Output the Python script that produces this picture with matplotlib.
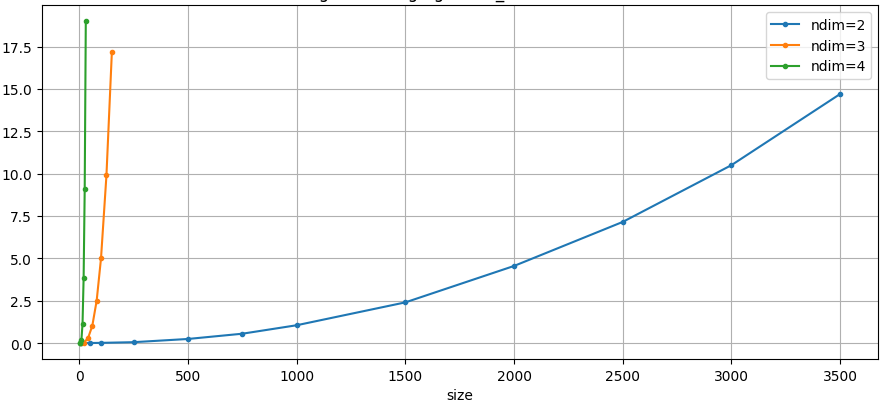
import matplotlib
matplotlib.use("Agg")
import matplotlib.pyplot as plt

# ndim=2
size_2d = [10, 50, 100, 250, 500, 750, 1000, 1500, 2000, 2500, 3000, 3500]
time_2d = [0.0, 0.002, 0.01, 0.05, 0.24, 0.55, 1.05, 2.4, 4.55, 7.15, 10.5, 14.7]

# ndim=3
size_3d = [10, 20, 40, 60, 80, 100, 125, 150]
time_3d = [0.0, 0.02, 0.28, 1.02, 2.5, 5.0, 9.9, 17.2]

# ndim=4
size_4d = [2, 5, 10, 15, 20, 25, 30]
time_4d = [0.0, 0.03, 0.2, 1.15, 3.85, 9.1, 19.0]

series = [
    (size_2d, time_2d, "ndim=2"),
    (size_3d, time_3d, "ndim=3"),
    (size_4d, time_4d, "ndim=4"),
]

fig, ax = plt.subplots(figsize=(8.87, 4.06), dpi=100)
fig.subplots_adjust(left=0.047, right=0.99, top=0.985, bottom=0.113)

for x, y, label in series:
    ax.plot(x, y, marker=".", label=label)

ax.set_title("Timing of ndimage.generic_filter (size, ndim)")
ax.set_xlabel("size")
ax.grid(True)
ax.legend(loc="upper right")

fig.savefig("out.png", dpi=100)
plt.close(fig)
